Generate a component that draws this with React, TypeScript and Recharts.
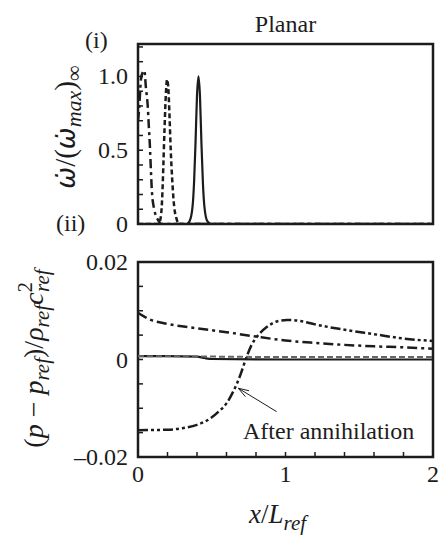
import React from 'react';
import { LineChart, Line, XAxis, YAxis, ReferenceArea, ReferenceLine } from 'recharts';

// ---- axes ----
const xTicks = [0, 0.2, 0.4, 0.6, 0.8, 1, 1.2, 1.4, 1.6, 1.8, 2];
const xMajor = [0, 1, 2];
const xMajorLabels = ['0', '1', '2'];

const topYTicks = [0, 0.1, 0.2, 0.3, 0.4, 0.5, 0.6, 0.7, 0.8, 0.9, 1, 1.1, 1.2];
const topYMajor = [0, 0.5, 1];
const topYMajorLabels = ['0', '0.5', '1.0'];
const topYDomain = [0, 1.22];

const botYTicks = [-0.02, -0.015, -0.01, -0.005, 0, 0.005, 0.01, 0.015, 0.02];
const botYMajor = [-0.02, 0, 0.02];
const botYMajorLabels = ['\u20130.02', '0', '0.02'];
const botYDomain = [-0.02, 0.02];

// ---- (i) heat release ----
const topDashDotX = [0, 0.009, 0.014, 0.02, 0.032, 0.043, 0.054, 0.066, 0.073, 0.082, 0.088, 0.095, 0.11, 0.134, 0.16, 2];
const topDashDotY = [0.7, 0.8, 0.89, 0.98, 1.03, 1.04, 0.92, 0.8, 0.67, 0.5, 0.35, 0.21, 0.1, 0.03, 0, 0];

const topDashedX = [0, 0.14, 0.155, 0.165, 0.172, 0.18, 0.19, 0.197, 0.205, 0.213, 0.222, 0.232, 0.245, 0.26, 0.28, 2];
const topDashedY = [0, 0, 0.05, 0.2, 0.4, 0.65, 0.9, 0.98, 0.93, 0.75, 0.5, 0.3, 0.12, 0.04, 0, 0];

const topSolidX = [0, 0.33, 0.35, 0.37, 0.38, 0.39, 0.4, 0.41, 0.42, 0.43, 0.44, 0.45, 0.47, 0.5, 2];
const topSolidY = [0, 0, 0.02, 0.12, 0.28, 0.55, 0.87, 1.0, 0.87, 0.55, 0.28, 0.12, 0.02, 0, 0];

// ---- (ii) pressure ----
const botSolidX = [0, 0.2, 0.4, 0.45, 0.5, 1, 1.5, 2];
const botSolidY = [0.0007, 0.0007, 0.0006, 0.0003, 0.0001, 0, 0, 0];

const botDashedX = [0, 0.5, 1, 1.5, 2];
const botDashedY = [0.0007, 0.0006, 0.0005, 0.0005, 0.0005];

const botDashDotX = [0, 0.08, 0.2, 0.4, 0.6, 0.8, 1.0, 1.2, 1.4, 1.6, 1.8, 2.0];
const botDashDotY = [0.0096, 0.0082, 0.0073, 0.0064, 0.0056, 0.0047, 0.0039, 0.0034, 0.003, 0.0027, 0.0025, 0.0022];

const botAfterX = [0, 0.2, 0.3, 0.4, 0.49, 0.55, 0.6, 0.65, 0.69, 0.73, 0.77, 0.81, 0.875, 0.94, 1.01, 1.1, 1.2, 1.4, 1.6, 1.8, 2.0];
const botAfterY = [-0.0145, -0.0144, -0.0141, -0.0134, -0.0121, -0.0106, -0.009, -0.0063, -0.0035, 0, 0.003, 0.0048, 0.0067, 0.0078, 0.0081, 0.0079, 0.0072, 0.0061, 0.0052, 0.0043, 0.0038];

// annotation arrow (data coordinates): tail -> tip
const arrowTail = { x: 0.94, y: -0.0107 };
const arrowTip = { x: 0.68, y: -0.0059 };

const INK = '#1c1c1c';
const FONT = 'Liberation Serif, Tinos, Times New Roman, Times, DejaVu Serif, Noto Serif, serif';
const MARKFONT = 'DejaVu Sans, Noto Sans, sans-serif';

const toPts = (xs: number[], ys: number[]) => xs.map((x, i) => ({ x, y: ys[i] }));

const findMajor = (majors: number[], v: number) => majors.findIndex((m) => Math.abs(m - v) < 1e-9);

const makeYTick = (majors: number[], labels: string[]) => (props: any) => {
  const { x, y, payload } = props;
  const i = findMajor(majors, payload.value);
  if (i < 0) return <g />;
  return (
    <text x={x} y={y} dy={8} textAnchor="end" fontSize={24} style={{ fontFamily: FONT }} fill={INK}>
      {labels[i]}
    </text>
  );
};

const makeXTick = (majors: number[], labels: string[]) => (props: any) => {
  const { x, y, payload } = props;
  const i = findMajor(majors, payload.value);
  if (i < 0) return <g />;
  return (
    <text x={x} y={y} dy={25} textAnchor="middle" fontSize={24} style={{ fontFamily: FONT }} fill={INK}>
      {labels[i]}
    </text>
  );
};

const ArrowShape = (p: any) => {
  const { x1, y1, x2, y2 } = p;
  if ([x1, y1, x2, y2].some((v) => typeof v !== 'number' || isNaN(v))) return <g />;
  const ang = Math.atan2(y2 - y1, x2 - x1);
  const L = 11;
  const spread = 0.32;
  const ax = x2 - L * Math.cos(ang - spread);
  const ay = y2 - L * Math.sin(ang - spread);
  const bx = x2 - L * Math.cos(ang + spread);
  const by = y2 - L * Math.sin(ang + spread);
  return (
    <g>
      <line x1={x1} y1={y1} x2={x2} y2={y2} stroke={INK} strokeWidth={1} />
      <polyline points={`${ax},${ay} ${x2},${y2} ${bx},${by}`} fill="none" stroke={INK} strokeWidth={1} />
    </g>
  );
};

const lineCommon = {
  dataKey: 'y',
  type: 'monotone' as const,
  stroke: INK,
  dot: false,
  activeDot: false,
  isAnimationActive: false,
};

export default function App() {
  return (
    <div style={{ position: 'absolute', left: 0, top: 0, width: 441, height: 536, background: '#fff', fontFamily: FONT }}>
      {/* (i) */}
      <div style={{ position: 'absolute', left: 0, top: 0 }}>
        <LineChart width={441} height={240} margin={{ top: 44, right: 8, bottom: 0, left: 0 }}>
          <XAxis
            dataKey="x"
            type="number"
            domain={[0, 2]}
            ticks={xTicks}
            interval={0}
            height={16}
            axisLine={false}
            tickSize={-5}
            tickMargin={5}
            tickLine={{ stroke: INK, strokeWidth: 1.5 }}
            tick={false}
            allowDataOverflow
          />
          <YAxis
            type="number"
            domain={topYDomain}
            ticks={topYTicks}
            interval={0}
            width={138}
            axisLine={false}
            tickSize={-5}
            tickMargin={15}
            tickLine={{ stroke: INK, strokeWidth: 1.5 }}
            tick={makeYTick(topYMajor, topYMajorLabels)}
            allowDataOverflow
          />
          <ReferenceArea x1={0} x2={2} y1={topYDomain[0]} y2={topYDomain[1]} fill="none" fillOpacity={0} stroke={INK} strokeWidth={2.5} ifOverflow="visible" />
          <Line {...lineCommon} data={toPts(topDashDotX, topDashDotY)} strokeWidth={2.5} strokeDasharray="9 4 3 4" />
          <Line {...lineCommon} data={toPts(topDashedX, topDashedY)} strokeWidth={2.5} strokeDasharray="5 3" />
          <Line {...lineCommon} data={toPts(topSolidX, topSolidY)} strokeWidth={2.2} />
        </LineChart>
      </div>

      {/* (ii) */}
      <div style={{ position: 'absolute', left: 0, top: 240 }}>
        <LineChart width={441} height={296} margin={{ top: 22, right: 8, bottom: 0, left: 0 }}>
          <XAxis
            dataKey="x"
            type="number"
            domain={[0, 2]}
            ticks={xTicks}
            interval={0}
            height={79}
            axisLine={false}
            tickSize={-5}
            tickMargin={5}
            tickLine={{ stroke: INK, strokeWidth: 1.5 }}
            tick={makeXTick(xMajor, xMajorLabels)}
            allowDataOverflow
          />
          <YAxis
            type="number"
            domain={botYDomain}
            ticks={botYTicks}
            interval={0}
            width={138}
            axisLine={false}
            tickSize={-5}
            tickMargin={15}
            tickLine={{ stroke: INK, strokeWidth: 1.5 }}
            tick={makeYTick(botYMajor, botYMajorLabels)}
            allowDataOverflow
          />
          <ReferenceArea x1={0} x2={2} y1={botYDomain[0]} y2={botYDomain[1]} fill="none" fillOpacity={0} stroke={INK} strokeWidth={2.5} ifOverflow="visible" />
          <Line {...lineCommon} data={toPts(botSolidX, botSolidY)} strokeWidth={2.2} />
          <Line {...lineCommon} data={toPts(botDashedX, botDashedY)} strokeWidth={2} strokeDasharray="6 3" stroke="#666" />
          <Line {...lineCommon} data={toPts(botDashDotX, botDashDotY)} strokeWidth={2.5} strokeDasharray="10 4 3 4" />
          <Line {...lineCommon} data={toPts(botAfterX, botAfterY)} strokeWidth={2.5} strokeDasharray="10 3 3 3 3 3" />
          <ReferenceLine segment={[arrowTail, arrowTip]} shape={ArrowShape} ifOverflow="visible" />
        </LineChart>
      </div>

      {/* titles and labels */}
      <svg width={441} height={536} style={{ position: 'absolute', left: 0, top: 0, pointerEvents: 'none', fontFamily: FONT }}>
        <g fill={INK}>
          <text x={285.5} y={32} fontSize={24} textAnchor="middle">Planar</text>
          <text x={85} y={48} fontSize={24}>(i)</text>
          <text x={56} y={231} fontSize={24}>(ii)</text>
          <text x={243} y={439} fontSize={24}>After annihilation</text>

          <text transform="rotate(-90)" x={-127} y={75} fontSize={29} textAnchor="middle">
            <tspan fontStyle="italic" fontSize={26} style={{ fontFamily: MARKFONT }}>{'\u03C9\u0307'}</tspan>
            <tspan>/(</tspan>
            <tspan fontStyle="italic" fontSize={26} style={{ fontFamily: MARKFONT }}>{'\u03C9\u0307'}</tspan>
            <tspan fontStyle="italic" fontSize={22} dy={6}>max</tspan>
            <tspan dy={-6}>)</tspan>
            <tspan fontSize={22} dy={6}>{'\u221E'}</tspan>
          </text>

          <text transform="rotate(-90)" x={-358.5} y={43} fontSize={28} textAnchor="middle">
            <tspan>(</tspan>
            <tspan fontStyle="italic">p</tspan>
            <tspan>{' \u2212 '}</tspan>
            <tspan fontStyle="italic">p</tspan>
            <tspan fontStyle="italic" fontSize={21} dy={6}>ref</tspan>
            <tspan dy={-6}>)/</tspan>
            <tspan fontStyle="italic">{'\u03C1'}</tspan>
            <tspan fontStyle="italic" fontSize={21} dy={6}>ref</tspan>
            <tspan fontStyle="italic" dy={-6}>c</tspan>
            <tspan fontSize={21} dy={-11}>2</tspan>
            <tspan fontStyle="italic" fontSize={21} dx={-10} dy={17}>ref</tspan>
          </text>

          <text x={249} y={523} fontSize={27} textAnchor="start">
            <tspan fontStyle="italic">x</tspan>
            <tspan>/</tspan>
            <tspan fontStyle="italic">L</tspan>
            <tspan fontStyle="italic" fontSize={21} dy={7}>ref</tspan>
          </text>
        </g>
      </svg>
    </div>
  );
}
